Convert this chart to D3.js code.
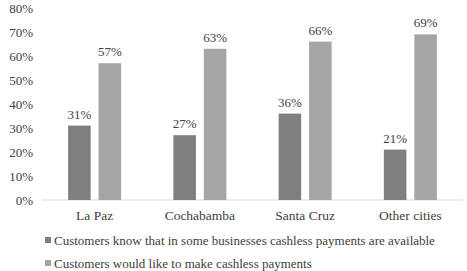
<!DOCTYPE html>
<html>
<head>
<meta charset="utf-8">
<script src="https://cdn.jsdelivr.net/npm/d3@7"></script>
<style>
  body { margin: 0; background: #fff; }
  text { font-family: "Liberation Serif", "DejaVu Serif", serif; fill: #404040; }
</style>
</head>
<body>
<div id="chart-area"></div>
<script>
var width = 467;
var height = 271;
var margin = {left: 42, right: 4, top: 8, bottom: 71};

var cities = ["La Paz", "Cochabamba", "Santa Cruz", "Other cities"];
var seriesNames = ["Customers know that in some businesses cashless payments are available",
                   "Customers would like to make cashless payments"];
var knowValues = [31, 27, 36, 21];
var likeValues = [57, 63, 66, 69];
var yTicks = [0, 10, 20, 30, 40, 50, 60, 70, 80];
var colors = ["#7f7f7f", "#a5a5a5"];

var chartWidth = width - margin.left - margin.right;
var chartHeight = height - margin.top - margin.bottom;

var svg = d3.select("#chart-area").append("svg").attr("width", width).attr("height", height);
var graph = svg.append("g").attr("transform", "translate(" + margin.left + "," + margin.top + ")");

var x = d3.scaleBand().domain(cities).range([0, chartWidth]);
var x1 = d3.scaleBand().domain([0, 1]).range([0, 53]).paddingInner(0.26);
var y = d3.scaleLinear().domain([0, 80]).range([chartHeight, 0]);

// y axis labels
graph.selectAll(".ytick").data(yTicks).enter().append("text")
	.attr("class", "ytick")
	.attr("x", -9).attr("y", (d) => { return y(d); })
	.attr("dy", "0.35em").attr("text-anchor", "end").attr("font-size", "13px")
	.text((d) => { return d + "%"; });

// baseline
graph.append("line").attr("x1", 0).attr("x2", chartWidth).attr("y1", y(0)).attr("y2", y(0))
	.attr("stroke", "#d9d9d9").attr("stroke-width", 1);

var rows = cities.map((c, i) => { return {city: c, vals: [knowValues[i], likeValues[i]]}; });

var groups = graph.selectAll(".city").data(rows).enter().append("g")
	.attr("transform", (d) => { return "translate(" + (x(d.city) + x.bandwidth() / 2 - 26.5) + ",0)"; });

groups.selectAll("rect").data((d) => { return d.vals; }).enter().append("rect")
	.attr("x", (d, i) => { return x1(i); })
	.attr("y", (d) => { return y(d); })
	.attr("width", x1.bandwidth())
	.attr("height", (d) => { return chartHeight - y(d); })
	.attr("fill", (d, i) => { return colors[i]; });

groups.selectAll(".val").data((d) => { return d.vals; }).enter().append("text")
	.attr("class", "val")
	.attr("x", (d, i) => { return x1(i) + x1.bandwidth() / 2; })
	.attr("y", (d) => { return y(d) - 7; })
	.attr("text-anchor", "middle").attr("font-size", "13px")
	.text((d) => { return d + "%"; });

// category labels
graph.selectAll(".cat").data(cities).enter().append("text")
	.attr("class", "cat")
	.attr("x", (d) => { return x(d) + x.bandwidth() / 2; })
	.attr("y", chartHeight + 15)
	.attr("dy", "0.35em")
	.attr("text-anchor", "middle").attr("font-size", "13.5px")
	.text((d) => { return d; });

// legend
var legend = svg.append("g").attr("transform", "translate(45, 240)");
seriesNames.forEach((s, i) => {
	var row = legend.append("g").attr("transform", "translate(0," + (i * 23) + ")");
	row.append("rect").attr("x", 0).attr("y", -3).attr("width", 6).attr("height", 6).attr("fill", colors[i]);
	row.append("text").attr("x", 9).attr("y", 0).attr("dy", "0.35em").attr("font-size", "13px").text(s);
});
</script>
</body>
</html>
